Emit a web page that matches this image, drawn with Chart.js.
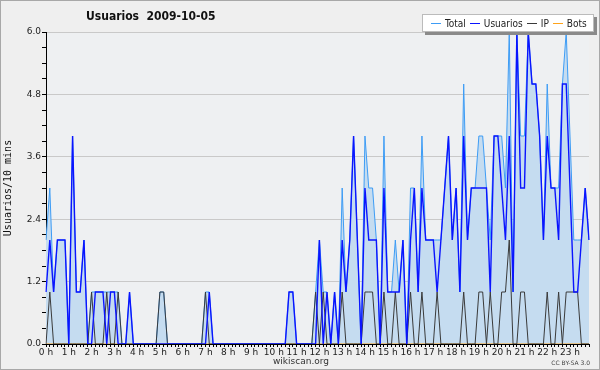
<!DOCTYPE html>
<html>
<head>
<meta charset="utf-8">
<script src="https://cdn.jsdelivr.net/npm/chart.js@4/dist/chart.umd.min.js"></script>
<style>
  html, body { margin: 0; padding: 0; background: #efefef; }
  #wrap { position: relative; width: 600px; height: 370px; box-sizing: border-box; border: 1px solid #a8a8a8; background: #efefef; overflow: hidden; }
  #chart { position: absolute; left: -1px; top: -1px; }
  #title { position: absolute; left: 85px; top: 8px; font: bold 12px "DejaVu Sans Condensed", "DejaVu Sans", sans-serif; color: #111; white-space: pre; }
  #legend { position: absolute; left: 421px; top: 13px; height: 16px; padding: 0 6px 0 4px; background: #fff; border: 1px solid #bbb; box-shadow: 3px 3px 0 #8a8a8a; display: flex; align-items: center; font: 10px "DejaVu Sans Condensed", "DejaVu Sans", sans-serif; color: #222; }
  #legend span.sw { display: inline-block; width: 10px; height: 0; border-top: 1px solid; margin: 0 4px 0 4px; vertical-align: middle; }
  #site { position: absolute; left: 0; width: 600px; top: 355px; text-align: center; font: 9px "DejaVu Sans", sans-serif; color: #333; }
  #lic { position: absolute; right: 9px; top: 358px; font: 6px "DejaVu Sans", sans-serif; color: #444; }
</style>
</head>
<body>
<div id="wrap">
  <canvas id="chart" width="600" height="370"></canvas>
  <div id="title">Usuarios  2009-10-05</div>
  <div id="legend"></div>
  <div id="site">wikiscan.org</div>
  <div id="lic">CC BY-SA 3.0</div>
</div>
<script>
// ===== Data (10 minute steps, 6 per hour) =====
const hourLabels = ['0 h', '1 h', '2 h', '3 h', '4 h', '5 h', '6 h', '7 h', '8 h', '9 h', '10 h', '11 h',
    '12 h', '13 h', '14 h', '15 h', '16 h', '17 h', '18 h', '19 h', '20 h', '21 h', '22 h', '23 h'];
const yTicks = [0, 1.2, 2.4, 3.6, 4.8, 6.0];

const total = [
    2, 3, 1, 2, 2, 2,   0, 4, 1, 1, 2, 0,   1, 1, 1, 1, 1, 1,   1, 1, 0, 0, 1, 0,
    0, 0, 0, 0, 0, 0,   1, 1, 0, 0, 0, 0,   0, 0, 0, 0, 0, 0,   1, 1, 0, 0, 0, 0,
    0, 0, 0, 0, 0, 0,   0, 0, 0, 0, 0, 0,   0, 0, 0, 0, 1, 1,   0, 0, 0, 0, 0, 1,
    2, 1, 1, 0, 1, 0,   3, 1, 2, 4, 2, 0,   4, 3, 3, 2, 0, 4,   1, 1, 2, 1, 2, 0,
    3, 3, 1, 4, 2, 2,   2, 2, 2, 3, 4, 2,   3, 1, 5, 2, 3, 3,   4, 4, 3, 2, 4, 4,
    4, 3, 6, 1, 6, 4,   4, 6, 5, 5, 4, 2,   5, 3, 3, 3, 5, 6,   4, 2, 2, 2, 3, 2
];
const usuarios = [
    1, 2, 1, 2, 2, 2,   0, 4, 1, 1, 2, 0,   0, 1, 1, 1, 0, 1,   1, 0, 0, 0, 1, 0,
    0, 0, 0, 0, 0, 0,   0, 0, 0, 0, 0, 0,   0, 0, 0, 0, 0, 0,   0, 1, 0, 0, 0, 0,
    0, 0, 0, 0, 0, 0,   0, 0, 0, 0, 0, 0,   0, 0, 0, 0, 1, 1,   0, 0, 0, 0, 0, 0,
    2, 0, 1, 0, 1, 0,   2, 1, 2, 4, 2, 0,   3, 2, 2, 2, 0, 3,   1, 1, 1, 1, 2, 0,
    2, 3, 1, 3, 2, 2,   2, 1, 2, 3, 4, 2,   3, 1, 4, 2, 3, 3,   3, 3, 3, 1, 4, 4,
    3, 2, 4, 1, 6, 3,   3, 6, 5, 5, 4, 2,   4, 3, 3, 2, 5, 5,   3, 1, 1, 2, 3, 2
];
const ip = [
    0, 1, 0, 0, 0, 0,   0, 0, 0, 0, 0, 0,   1, 0, 0, 0, 1, 0,   0, 1, 0, 0, 0, 0,
    0, 0, 0, 0, 0, 0,   1, 1, 0, 0, 0, 0,   0, 0, 0, 0, 0, 0,   1, 0, 0, 0, 0, 0,
    0, 0, 0, 0, 0, 0,   0, 0, 0, 0, 0, 0,   0, 0, 0, 0, 0, 0,   0, 0, 0, 0, 0, 1,
    0, 1, 0, 0, 0, 0,   1, 0, 0, 0, 0, 0,   1, 1, 1, 0, 0, 1,   0, 0, 1, 0, 0, 0,
    1, 0, 0, 1, 0, 0,   0, 1, 0, 0, 0, 0,   0, 0, 1, 0, 0, 0,   1, 1, 0, 1, 0, 0,
    1, 1, 2, 0, 0, 1,   1, 0, 0, 0, 0, 0,   1, 0, 0, 1, 0, 1,   1, 1, 1, 0, 0, 0
];
const bots = [
    0, 0, 0, 0, 0, 0,   0, 0, 0, 0, 0, 0,   0, 0, 0, 0, 0, 0,   0, 0, 0, 0, 0, 0,
    0, 0, 0, 0, 0, 0,   0, 0, 0, 0, 0, 0,   0, 0, 0, 0, 0, 0,   0, 0, 0, 0, 0, 0,
    0, 0, 0, 0, 0, 0,   0, 0, 0, 0, 0, 0,   0, 0, 0, 0, 0, 0,   0, 0, 0, 0, 0, 0,
    0, 0, 0, 0, 0, 0,   0, 0, 0, 0, 0, 0,   0, 0, 0, 0, 0, 0,   0, 0, 0, 0, 0, 0,
    0, 0, 0, 0, 0, 0,   0, 0, 0, 0, 0, 0,   0, 0, 0, 0, 0, 0,   0, 0, 0, 0, 0, 0,
    0, 0, 0, 0, 0, 0,   0, 0, 0, 0, 0, 0,   0, 0, 0, 0, 0, 0,   0, 0, 0, 0, 0, 0
];

// one category per 10 minutes, the hour name only on the first slot
const labels = [];
hourLabels.forEach(h => { for (let k = 0; k < 6; k++) labels.push(k === 0 ? h : ''); });

const isMajor = (v) => yTicks.some(t => Math.abs(t - v) < 1e-6);

// ===== Plot area background =====
const plotBg = {
    id: 'plotBg',
    beforeDraw(chart) {
        const { ctx, chartArea: a } = chart;
        ctx.save();
        ctx.fillStyle = '#eef0f2';
        ctx.fillRect(a.left, a.top, a.right - a.left, a.bottom - a.top);
        ctx.restore();
    }
};

const datasets = [
    { label: 'Total', data: total, borderColor: '#3d9cf5', backgroundColor: '#c5dcf0', fill: 'origin', borderWidth: 1, order: 3 },
    { label: 'Usuarios', data: usuarios, borderColor: '#0a14ff', borderWidth: 1.4, fill: false, order: 1 },
    { label: 'IP', data: ip, borderColor: '#3a3a3a', borderWidth: 1, fill: false, order: 2 },
    { label: 'Bots', data: bots, borderColor: '#ffa31a', borderWidth: 1, fill: false, order: 4, hidden: false }
];

const chart = new Chart(document.getElementById('chart').getContext('2d'), {
    type: 'line',
    data: { labels: labels, datasets: datasets },
    options: {
        responsive: false,
        animation: false,
        events: [],
        layout: { padding: { top: 32, right: 11, left: 0, bottom: 0 } },
        elements: { point: { radius: 0 }, line: { tension: 0 } },
        plugins: {
            legend: { display: false },
            title: { display: false },
            tooltip: { enabled: false },
            filler: { drawTime: 'beforeDatasetsDraw' }
        },
        scales: {
            x: {
                type: 'category',
                offset: false,
                border: { color: '#000', width: 1 },
                grid: { drawOnChartArea: false, tickLength: 3, tickColor: '#000' },
                ticks: {
                    autoSkip: false, maxRotation: 0, padding: 0,
                    color: '#222', font: { family: 'DejaVu Sans', size: 9 },
                    callback: (v, i) => labels[i]
                },
                afterFit: (s) => { s.height = 26; }
            },
            y: {
                min: 0, max: 6,
                border: { color: '#000', width: 1 },
                grid: {
                    color: (c) => isMajor(c.tick.value) && c.tick.value > 0 ? '#c9c9c9' : 'rgba(0,0,0,0)',
                    tickColor: '#000', tickLength: 4, lineWidth: 1
                },
                ticks: {
                    stepSize: 0.3, maxTicksLimit: 40, autoSkip: false, padding: 1,
                    color: '#222', font: { family: 'DejaVu Sans', size: 9 },
                    callback: (v) => isMajor(v) ? v.toFixed(1) : ''
                },
                title: {
                    display: true, text: 'Usuarios/10 mins', color: '#111',
                    font: { family: 'DejaVu Sans Mono', size: 10 }, padding: { top: 2, bottom: 0 }
                },
                afterFit: (s) => { s.width = 46; }
            }
        }
    },
    plugins: [plotBg]
});

// ===== HTML legend from the datasets =====
const legendEl = document.getElementById('legend');
datasets.forEach(d => {
    const sw = document.createElement('span');
    sw.className = 'sw';
    sw.style.borderTopColor = d.borderColor;
    legendEl.appendChild(sw);
    legendEl.appendChild(document.createTextNode(d.label));
});
</script>
</body>
</html>
